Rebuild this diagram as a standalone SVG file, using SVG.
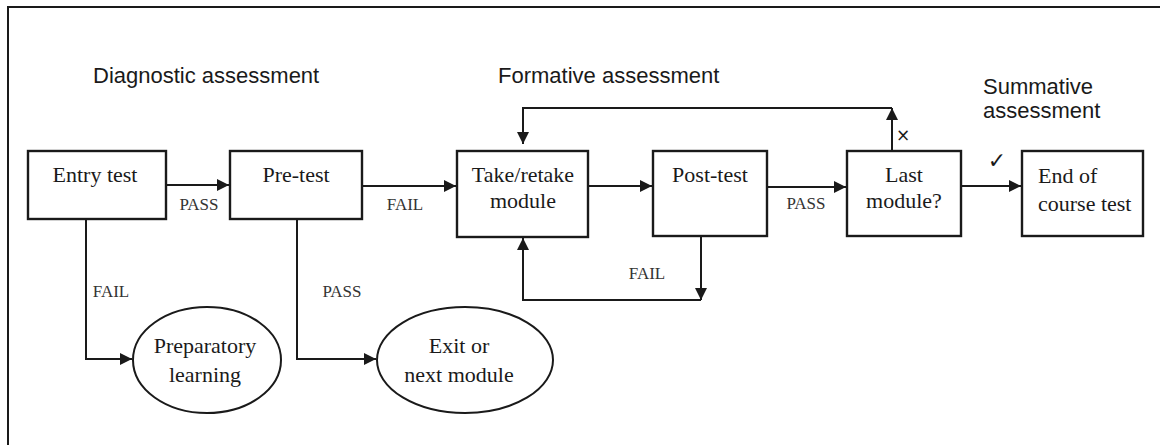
<svg xmlns="http://www.w3.org/2000/svg" width="1160" height="445" viewBox="0 0 1160 445">
<style>
.box{fill:#fff;stroke:#1a1a1a;stroke-width:2.4}
.ell{fill:#fff;stroke:#1a1a1a;stroke-width:2}
.ln{fill:none;stroke:#1a1a1a;stroke-width:2}
.t{font-family:"Liberation Serif",serif;font-size:22px;fill:#1a1a1a;text-anchor:middle}
.lbl{font-family:"Liberation Serif",serif;font-size:17px;fill:#333;text-anchor:middle}
.hd{font-family:"Liberation Sans",Arial,sans-serif;font-size:22px;fill:#1a1a1a}
.sym{font-family:"DejaVu Sans",sans-serif;fill:#1a1a1a;text-anchor:middle}
</style>
<defs>
<marker id="ah" viewBox="0 0 10 10" refX="10" refY="5" markerWidth="6" markerHeight="6" markerUnits="strokeWidth" orient="auto">
<path d="M0,0 L10,5 L0,10 z" fill="#1a1a1a"/>
</marker>
</defs>
<rect width="1160" height="445" fill="#fff"/>
<path d="M8,445 V7 H1160" fill="none" stroke="#1a1a1a" stroke-width="2"/>

<text class="hd" x="93" y="83">Diagnostic assessment</text>
<text class="hd" x="498" y="83">Formative assessment</text>
<text class="hd" x="983" y="94">Summative</text>
<text class="hd" x="983" y="118">assessment</text>

<g id="connectors">
<line class="ln" x1="166" y1="185" x2="229" y2="185" marker-end="url(#ah)"/>
<line class="ln" x1="362" y1="186" x2="456" y2="186" marker-end="url(#ah)"/>
<line class="ln" x1="588" y1="186" x2="652" y2="186" marker-end="url(#ah)"/>
<line class="ln" x1="767" y1="187" x2="846" y2="187" marker-end="url(#ah)"/>
<line class="ln" x1="961" y1="186" x2="1021" y2="186" marker-end="url(#ah)"/>
<line class="ln" x1="892" y1="151" x2="892" y2="108" marker-end="url(#ah)"/>
<path class="ln" d="M892,108 H523 V144" marker-end="url(#ah)"/>
<line class="ln" x1="701" y1="237" x2="701" y2="300" marker-end="url(#ah)"/>
<path class="ln" d="M701,300 H523 V238" marker-end="url(#ah)"/>
<path class="ln" d="M86,219 V359 H132" marker-end="url(#ah)"/>
<path class="ln" d="M297,219 V359 H376" marker-end="url(#ah)"/>
<text class="lbl" x="199" y="210">PASS</text>
<text class="lbl" x="405" y="210">FAIL</text>
<text class="lbl" x="806" y="209">PASS</text>
<text class="lbl" x="647" y="279">FAIL</text>
<text class="lbl" x="111" y="297">FAIL</text>
<text class="lbl" x="342" y="297">PASS</text>
<text class="sym" x="903" y="141" font-size="17">×</text>
<text class="sym" x="997" y="168" font-size="22">✓</text>
</g>

<g id="entry-test">
<rect class="box" x="28" y="151" width="138" height="68"/>
<text class="t" x="95" y="182">Entry test</text>
</g>
<g id="pre-test">
<rect class="box" x="230" y="151" width="132" height="68"/>
<text class="t" x="296" y="182">Pre-test</text>
</g>
<g id="take-retake">
<rect class="box" x="457" y="151" width="131" height="86"/>
<text class="t" x="523" y="182">Take/retake</text>
<text class="t" x="523" y="208">module</text>
</g>
<g id="post-test">
<rect class="box" x="653" y="151" width="114" height="85"/>
<text class="t" x="710" y="182">Post-test</text>
</g>
<g id="last-module">
<rect class="box" x="847" y="151" width="114" height="85"/>
<text class="t" x="904" y="182">Last</text>
<text class="t" x="904" y="208">module?</text>
</g>
<g id="end-of-course">
<rect class="box" x="1022" y="151" width="121" height="85"/>
<text class="t" x="1038" y="183" style="text-anchor:start">End of</text>
<text class="t" x="1038" y="211" style="text-anchor:start">course test</text>
</g>
<g id="preparatory">
<ellipse class="ell" cx="207" cy="360" rx="74" ry="53"/>
<text class="t" x="205" y="353">Preparatory</text>
<text class="t" x="205" y="382">learning</text>
</g>
<g id="exit">
<ellipse class="ell" cx="465" cy="360" rx="88" ry="53"/>
<text class="t" x="459" y="353">Exit or</text>
<text class="t" x="459" y="382">next module</text>
</g>
</svg>
